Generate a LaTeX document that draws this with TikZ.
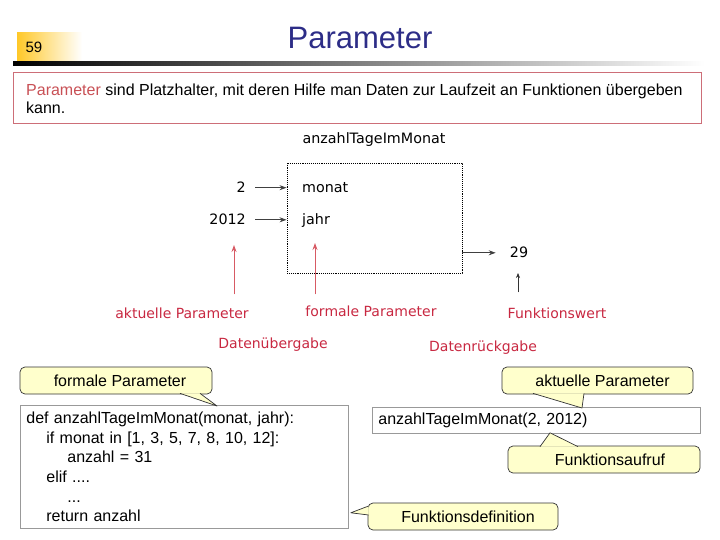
\documentclass[tikz,border=0pt]{standalone}
\usepackage{fontspec}
\setmainfont{Liberation Sans}
\newfontfamily\diagfont{DejaVu Sans}
\usetikzlibrary{arrows.meta}
\definecolor{titleblue}{RGB}{45,45,135}
\definecolor{labelred}{RGB}{200,40,65}
\definecolor{boxred}{RGB}{205,110,120}
\definecolor{hintred}{RGB}{200,80,85}
\definecolor{arrowred}{RGB}{215,90,100}
\definecolor{noteyellow}{RGB}{255,255,204}
\definecolor{numyellow}{RGB}{255,200,40}
\newcommand{\notetip}[3]{%
  \fill[noteyellow] (#1) -- (#2) -- (#3) -- cycle;
  \draw[black!80, line width=0.7pt, line join=round] (#1) -- (#2) -- (#3);}
\begin{document}
\begin{tikzpicture}[x=1pt, y=-1pt,
  txt/.style={font=\fontsize{16}{19.6}\selectfont, inner sep=0pt},
  dia/.style={font=\diagfont\fontsize{14.3}{17}\selectfont, inner sep=2pt},
  lbl/.style={dia, font=\diagfont\fontsize{14}{17}\selectfont, text=labelred},
  flow/.style={-{Stealth[length=7pt,width=5pt]}, line width=0.9pt, black!75},
  redflow/.style={-{Stealth[length=7pt,width=5pt]}, line width=1pt, arrowred},
  note/.style={txt, draw=black!80, fill=noteyellow, rounded corners=5pt, line width=0.7pt, minimum width=192pt, minimum height=27pt},
  codebox/.style={txt, draw=black!40, line width=0.8pt, anchor=north west, text width=316pt, inner xsep=6pt, align=left}]
\useasboundingbox (0,0) rectangle (720,540);
\shade[left color=numyellow, right color=white] (17,33) rectangle (82,62);
\shade[left color=black, middle color=black!60, right color=white] (13,62) rectangle (705,66);
\node[txt, font=\fontsize{15}{16}\selectfont] (num) at (34,47) {59};
\node[font=\fontsize{31}{36}\selectfont, text=titleblue] (title) at (360,38) {Parameter};
\draw[boxred, line width=0.8pt] (13,72) rectangle (701,123);
\node[txt, font=\fontsize{16}{18}\selectfont, anchor=north west, align=left] (intro) at (26,84)
  {\textcolor{hintred}{Parameter} sind Platzhalter, mit deren Hilfe man Daten zur Laufzeit an Funktionen übergeben\\kann.};
\node[dia] (fname) at (374,140) {anzahlTageImMonat};
\node[draw, densely dotted, line width=0.9pt, minimum width=175pt, minimum height=110pt] (func) at (374.5,218) {};
\node[dia, anchor=base west] (monat) at (300,193) {monat};
\node[dia, anchor=base west] (jahr) at (300,225) {jahr};
\node[dia, anchor=base east] (two) at (248,193) {2};
\node[dia, anchor=base east] (year) at (248,225) {2012};
\node[dia, anchor=base] (ret) at (519,258) {29};
\draw[flow] ([xshift=7pt]two.east) -- (two.east -| func.west);
\draw[flow] ([xshift=7pt]year.east) -- (year.east -| func.west);
\draw[flow] (func.east |- ret) -- ([xshift=-12pt]ret.west);
\node[lbl] (aktlbl) at (182,313) {aktuelle Parameter};
\node[lbl] (formlbl) at (371,311) {formale Parameter};
\node[lbl] (wertlbl) at (557,313) {Funktionswert};
\node[lbl] (uebergabe) at (273,345) {Datenübergabe};
\node[lbl] (rueckgabe) at (483,348) {Datenrückgabe};
\coordinate (aktTip) at (234,245);
\coordinate (formTip) at (315,243);
\coordinate (wertTip) at (518,273);
\draw[redflow, shorten <=11pt] (aktTip |- aktlbl.north) -- (aktTip);
\draw[redflow, shorten <=9pt] (formTip |- formlbl.north) -- (formTip);
\draw[-{Stealth[length=5pt,width=4pt]}, line width=0.6pt, black!80, shorten <=13pt] (wertTip |- wertlbl.north) -- (wertTip);
\node[codebox, minimum height=123pt] (code) at (20,405)
  {def anzahlTageImMonat(monat, jahr):\\
   \hspace*{20pt}if monat in [1, 3, 5, 7, 8, 10, 12]:\\
   \hspace*{41pt}anzahl = 31\\
   \hspace*{20pt}elif ....\\
   \hspace*{41pt}...\\
   \hspace*{20pt}return anzahl};
\node[codebox, minimum height=26pt] (call) at (372,407) {anzahlTageImMonat(2, 2012)};
\node[note] (noteFormal) at (116,380.5) {\hspace*{8pt}formale Parameter};
\node[note, minimum width=191pt] (noteAkt) at (597.5,380.5) {\hspace*{10pt}aktuelle Parameter};
\node[note] (noteCall) at (604,459.5) {\hspace*{12pt}Funktionsaufruf};
\node[note, minimum width=190pt] (noteDef) at (463,516.5) {\hspace*{10pt}Funktionsdefinition};
\notetip{[xshift=64pt,yshift=1pt]noteFormal.south}{[xshift=197pt,yshift=-1pt]code.north west}{[xshift=84pt,yshift=1pt]noteFormal.south}
\notetip{[xshift=-64.5pt,yshift=1pt]noteAkt.south}{[xshift=210pt,yshift=-1pt]call.north west}{[xshift=-13.5pt,yshift=1pt]noteAkt.south}
\notetip{[xshift=-64pt,yshift=-1pt]noteCall.north}{[xshift=178pt,yshift=1pt]call.south west}{[xshift=-26pt,yshift=-1pt]noteCall.north}
\notetip{[xshift=1pt,yshift=10.5pt]noteDef.west}{[xshift=2pt,yshift=16pt]code.south east}{[xshift=1pt,yshift=1.5pt]noteDef.west}
\end{tikzpicture}
\end{document}
